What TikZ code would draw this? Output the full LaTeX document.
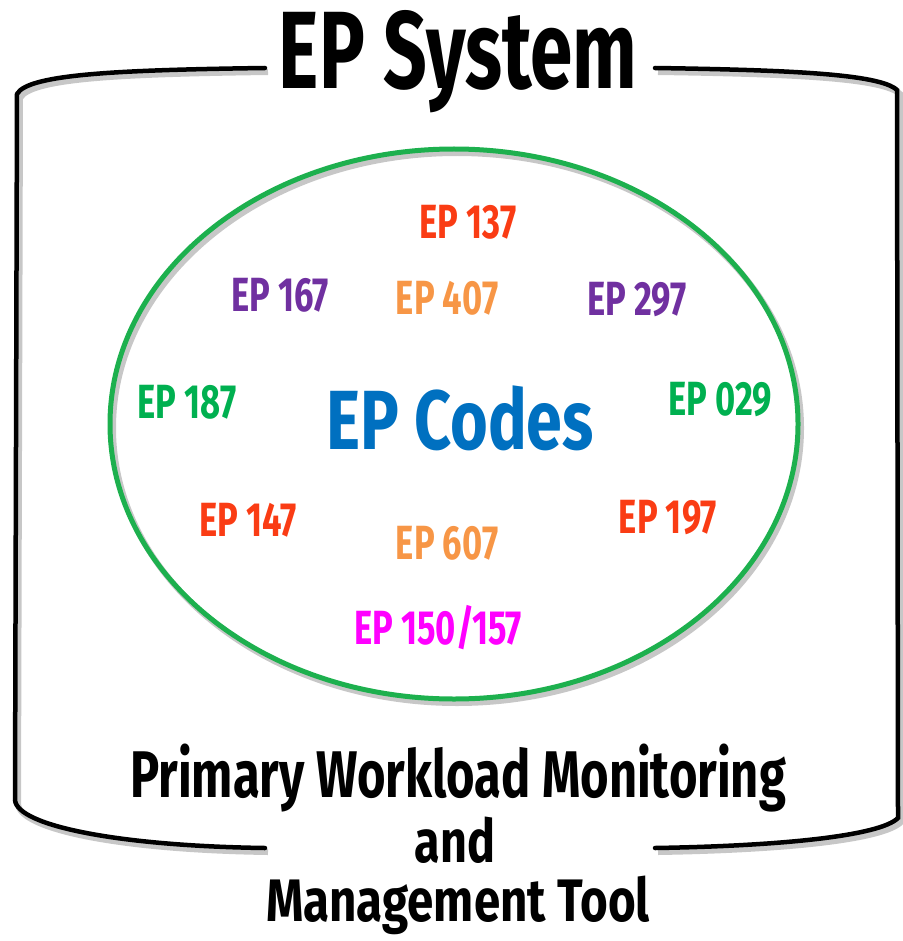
\documentclass[tikz,border=0pt]{standalone}
\usepackage{fontspec}
\setmainfont{Fira Sans}
\usepackage{xcolor}
\usetikzlibrary{positioning,shapes.geometric}

\definecolor{eporange}{HTML}{F79646}
\definecolor{epred}{HTML}{FA3C14}
\definecolor{eppurple}{HTML}{7030A0}
\definecolor{epgreen}{HTML}{00B050}
\definecolor{epblue}{HTML}{0070C0}
\definecolor{epmagenta}{HTML}{FF00FF}
\definecolor{ringgreen}{HTML}{1DB04E}

\newcommand\fsz[1]{\fontsize{#1}{#1}\selectfont\bfseries}

\tikzset{
  code/.style={font=\fsz{48}, xscale=0.72, inner sep=0pt},
  heading/.style={font=\fsz{#1}, xscale=0.74, inner sep=0pt, text=black},
  frame/.style={line width=4.5pt, line cap=round,
    preaction={draw=black!22, line width=6pt, transform canvas={shift={(3pt,-4pt)}}}},
}

\begin{document}
\begin{tikzpicture}[x=1pt,y=1pt]
      \useasboundingbox (0,0) rectangle (902,-941);

      % title and bottom caption
      \node[heading=110, xscale=0.94] (title) at (458,-62) {EP System};
      \node[heading=66] (cap1) at (458,-778) {Primary Workload Monitoring};
      \node[heading=60, xscale=1.05] (cap2) at (455,-840) {and};
      \node[heading=60, xscale=1.07] (cap3) at (458,-905) {Management Tool};

      % bracket frame
      \coordinate (tl) at (265,-68);
      \coordinate (tr) at (655,-68);
      \coordinate (bl) at (265,-848);
      \coordinate (br) at (655,-848);
      \draw[frame] (tl) .. controls (120,-70) and (28,-74) .. (17,-94)
        -- (15,-800) .. controls (17,-826) and (120,-846) .. (bl);
      \draw[frame] (tr) .. controls (790,-70) and (880,-74) .. (897,-90)
        -- (898,-818) .. controls (880,-836) and (780,-846) .. (br);

      % ellipse of codes
      \node[draw=ringgreen, line width=5pt, ellipse, minimum width=688pt, minimum height=550pt,
        inner sep=0pt,
        preaction={draw=black!22, line width=6pt, transform canvas={shift={(3pt,-4pt)}}}]
        (ring) at (454,-424) {};

      \node[font=\fsz{84}, xscale=0.77, inner sep=0pt, text=epblue] (codes) at (460,-418) {EP Codes};

      \node[code, text=epred] (c137) at (468,-222) {EP 137};
      \node[code, text=eppurple] (c167) at (280,-295) {EP 167};
      \node[code, text=eporange] (c407) at (447,-298) {EP 407};
      \node[code, text=eppurple] (c297) at (637,-300) {EP 297};
      \node[code, text=epgreen] (c187) at (187,-402) {EP 187};
      \node[code, text=epgreen] (c029) at (720,-400) {EP 029};
      \node[code, text=epred] (c147) at (248,-520) {EP 147};
      \node[code, text=eporange] (c607) at (447,-543) {EP 607};
      \node[code, text=epred] (c197) at (668,-518) {EP 197};
      \node[code, text=epmagenta] (c150) at (438,-628) {EP 150/157};
\end{tikzpicture}
\end{document}
